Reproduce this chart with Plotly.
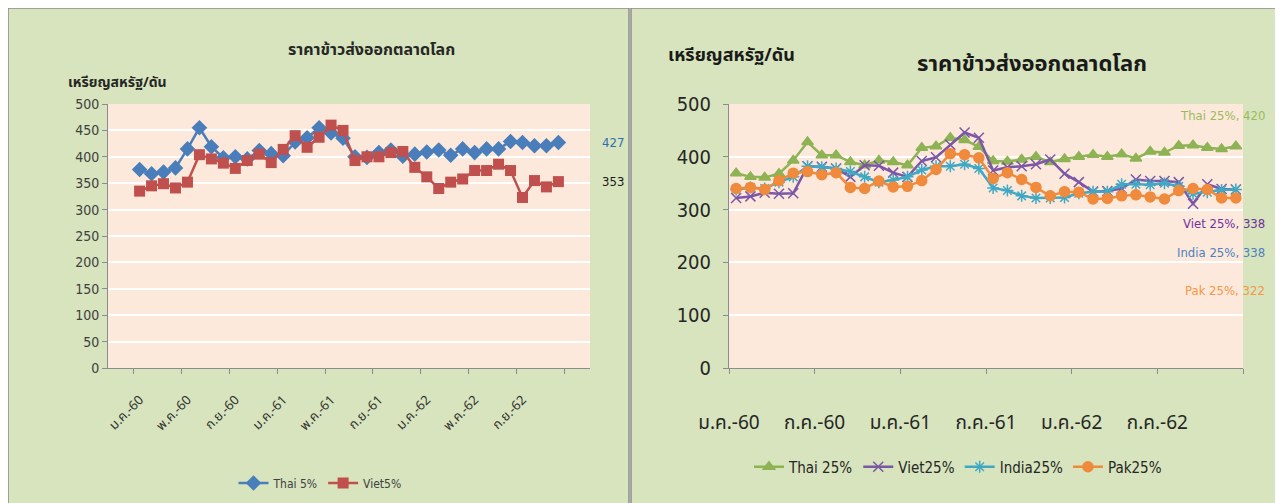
import numpy as np
import plotly.graph_objects as go

# Month labels (Thai Buddhist-era short years 60-62)
thai_months = ['ม.ค.', 'ก.พ.', 'มี.ค.', 'เม.ย.', 'พ.ค.', 'มิ.ย.',
               'ก.ค.', 'ส.ค.', 'ก.ย.', 'ต.ค.', 'พ.ย.', 'ธ.ค.']
years = ['60', '61', '62']
months = [m + '-' + y for y in years for m in thai_months]

# Left chart: 5% broken rice
thai5 = [376, 368, 371, 379, 415, 455, 419, 398, 400, 396, 412, 406,
         402, 428, 436, 455, 445, 435, 400, 399, 408, 413, 401, 405,
         409, 413, 403, 415, 408, 415, 415, 429, 427, 421, 421, 427]
viet5 = [335, 345, 349, 341, 352, 404, 396, 388, 378, 393, 405, 389,
         414, 440, 418, 437, 460, 450, 393, 400, 400, 408, 410, 380,
         362, 340, 352, 358, 374, 374, 386, 374, 323, 355, 343, 353]

# Right chart: 25% broken rice
thai25 = [369, 362, 361, 368, 393, 428, 403, 403, 390, 384, 393, 390,
          384, 417, 420, 436, 432, 419, 392, 391, 395, 400, 390, 396,
          400, 404, 400, 405, 397, 410, 408, 421, 422, 417, 415, 420]
viet25 = [322, 325, 332, 330, 331, 382, 381, 378, 362, 384, 383, 370,
          362, 392, 399, 423, 446, 436, 374, 380, 382, 386, 395, 368,
          352, 334, 335, 340, 357, 354, 354, 352, 311, 348, 339, 338]
india25 = [338, 342, 340, 352, 362, 382, 380, 378, 372, 362, 352, 356,
           362, 375, 382, 382, 386, 378, 341, 336, 326, 322, 322, 323,
           331, 334, 334, 348, 348, 347, 350, 344, 330, 333, 337, 338]
pak25 = [340, 342, 338, 355, 369, 372, 366, 370, 342, 340, 354, 343,
         344, 355, 376, 406, 404, 398, 359, 370, 357, 342, 326, 334,
         333, 320, 321, 326, 328, 324, 320, 336, 340, 338, 322, 322]

# the page body keeps an 8px margin, so the figure starts at (8, 8)
OFF = 8
W, H = 1283 - OFF, 503 - OFF
def px_x(v):
    return (v - OFF) / W
def px_y(v):
    return 1 - (v - OFF) / H

green_bg = '#d7e4bd'
pink_bg = '#fce9db'
narrow = 'Liberation Sans Narrow, DejaVu Sans Condensed, Roboto Condensed, sans-serif'
thai_font = 'Noto Sans Thai, Tahoma, Liberation Sans, sans-serif'

fig = go.Figure()

# ---- left chart traces
fig.add_trace(go.Scatter(
    x=months, y=thai5, name='Thai 5%', mode='lines+markers',
    line=dict(color='#4a7ebb', width=2.5),
    marker=dict(symbol='diamond', size=12, color='#4a7ebb'),
    xaxis='x', yaxis='y', legend='legend'))
fig.add_trace(go.Scatter(
    x=months, y=viet5, name='Viet5%', mode='lines+markers',
    line=dict(color='#c0504d', width=2.5),
    marker=dict(symbol='square', size=11, color='#c0504d'),
    xaxis='x', yaxis='y', legend='legend'))

# ---- right chart traces (points in the middle of each month)
xr = np.arange(len(months)) + 0.5
right_series = [
    ('Thai 25%', thai25, '#8db354', 'triangle-up', 10),
    ('Viet25%', viet25, '#7b57a6', 'x-thin-open', 10),
    ('India25%', india25, '#3fa9c5', 'asterisk-open', 10),
    ('Pak25%', pak25, '#f08a3c', 'circle', 10),
]
for name, vals, col, sym, sz in right_series:
    fig.add_trace(go.Scatter(
        x=xr, y=vals, name=name, mode='lines+markers',
        line=dict(color=col, width=2.5),
        marker=dict(symbol=sym, size=sz, color=col, line=dict(color=col, width=1.5)),
        xaxis='x2', yaxis='y2', legend='legend2'))

axis_common = dict(showline=True, linecolor='#8c8c8c', linewidth=1,
                   ticks='outside', tickcolor='#8c8c8c', ticklen=5,
                   zeroline=False)

fig.update_layout(
    width=W, height=H,
    margin=dict(l=0, r=0, t=0, b=0, autoexpand=False),
    paper_bgcolor=green_bg,
    plot_bgcolor=pink_bg,
    xaxis=dict(domain=[px_x(108), px_x(590)], anchor='y', type='category',
               tickmode='linear', tick0=0, dtick=4, tickson='boundaries',
               tickangle=-45, showgrid=False, ticklabelstandoff=18,
               tickfont=dict(size=13, color='#333333', family=thai_font),
               **axis_common),
    yaxis=dict(domain=[px_y(368), px_y(104)], anchor='x', range=[0, 500],
               dtick=50, showgrid=True, gridcolor='white', gridwidth=1.5,
               tickfont=dict(size=14, color='#404040', family=narrow),
               **axis_common),
    xaxis2=dict(domain=[px_x(729), px_x(1243)], anchor='y2', range=[0, 36],
                tickmode='array', tickvals=list(range(0, 37, 6)),
                ticktext=months[::6] + [''], showgrid=False,
                ticklabelstandoff=32,
                tickfont=dict(size=19, color='#262626', family=thai_font),
                **axis_common),
    yaxis2=dict(domain=[px_y(368), px_y(104)], anchor='x2', range=[0, 500],
                dtick=100, showgrid=True, gridcolor='white', gridwidth=1.5,
                ticklabelstandoff=8,
                tickfont=dict(size=20, color='#262626', family=narrow),
                **axis_common),
    legend=dict(orientation='h', x=px_x(320), xanchor='center',
                y=px_y(483), yanchor='middle', bgcolor='rgba(0,0,0,0)',
                font=dict(size=12, color='#404040', family=narrow)),
    legend2=dict(orientation='h', x=px_x(958), xanchor='center',
                 y=px_y(467), yanchor='middle', bgcolor='rgba(0,0,0,0)',
                 font=dict(size=15, color='#262626', family=narrow)),
)

# gap between the two panels, then panel borders
fig.add_shape(type='rect', xref='paper', yref='paper',
              x0=px_x(629), x1=px_x(631), y0=0, y1=1,
              fillcolor='white', line=dict(width=0), layer='above')
fig.add_shape(type='rect', xref='paper', yref='paper',
              x0=0, x1=px_x(629), y0=-0.01, y1=1,
              line=dict(color='#8c8c8c', width=1.5), layer='above')
fig.add_shape(type='rect', xref='paper', yref='paper',
              x0=px_x(631), x1=1.01, y0=-0.01, y1=1,
              line=dict(color='#8c8c8c', width=1.5), layer='above')

def label(text, x, y, size, color, family, xanchor='center'):
    fig.add_annotation(text=text, xref='paper', yref='paper',
                       x=px_x(x), y=px_y(y), xanchor=xanchor, yanchor='middle',
                       showarrow=False, font=dict(size=size, color=color, family=family))

# titles
label('<b>ราคาข้าวส่งออกตลาดโลก</b>', 372, 50, 16, '#262626', thai_font)
label('<b>เหรียญสหรัฐ/ดัน</b>', 66, 83, 14, '#262626', thai_font, 'left')
label('<b>ราคาข้าวส่งออกตลาดโลก</b>', 1032, 64, 22, '#1a1a1a', thai_font)
label('<b>เหรียญสหรัฐ/ดัน</b>', 666, 56, 18, '#1a1a1a', thai_font, 'left')

# end-of-line value labels, left chart
fig.add_annotation(text=str(thai5[-1]), xref='paper', yref='y',
                   x=px_x(600), y=thai5[-1], xanchor='left', yanchor='middle',
                   showarrow=False, font=dict(size=13, color='#2e6fb0', family=narrow))
fig.add_annotation(text=str(viet5[-1]), xref='paper', yref='y',
                   x=px_x(600), y=viet5[-1], xanchor='left', yanchor='middle',
                   showarrow=False, font=dict(size=13, color='#1a1a1a', family=narrow))

# series labels, right chart
label_pos = [('Thai 25%', thai25, '#9bbb59', 116),
             ('Viet 25%', viet25, '#7030a0', 223),
             ('India 25%', india25, '#4f81bd', 252),
             ('Pak 25%', pak25, '#f79646', 290)]
for name, vals, col, ypx in label_pos:
    label(f'{name}, {vals[-1]}', 1267, ypx, 13, col, narrow, 'right')

fig.write_html('out.html')
